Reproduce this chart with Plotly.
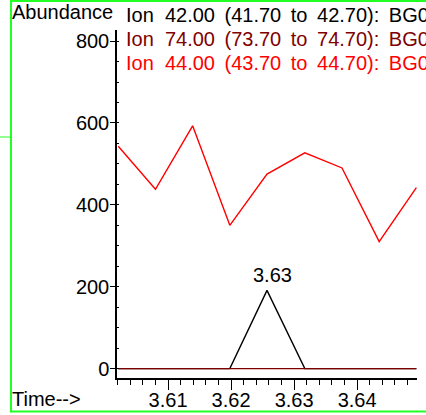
import plotly.graph_objects as go

# ---- data ----
times = [3.6021, 3.6080, 3.6139, 3.6198, 3.6257, 3.6317, 3.6376, 3.6435, 3.6494]
ion42 = [0, 0, 0, 0, 191, 0, 0, 0, 0]
ion74 = [0, 0, 0, 0, 0, 0, 0, 0, 0]
ion44 = [543, 438, 593, 350, 475, 527, 490, 310, 442]
SP = "\u00a0\u00a0"
S2 = "\u00a0\u2009"
legend_labels = [
    f"Ion{SP}42.00{S2}(41.70{S2}to{S2}42.70):{S2}BG0",
    f"Ion{SP}74.00{S2}(73.70{S2}to{S2}74.70):{S2}BG0",
    f"Ion{SP}44.00{S2}(43.70{S2}to{S2}44.70):{S2}BG0",
]
peak_label = "3.63"
x_ticks = [3.61, 3.62, 3.63, 3.64]
y_ticks = [0, 200, 400, 600, 800]

W, H = 426, 415
L, R, T, B = 117, 9, 30, 37
FONT = "Liberation Sans, Arial, sans-serif"
colors = ["#000000", "#800000", "#ff0000"]

fig = go.Figure()
for vals, c in zip([ion42, ion74, ion44], colors):
    fig.add_trace(go.Scatter(x=times, y=vals, mode="lines",
                             line=dict(color=c, width=1.4), showlegend=False,
                             hoverinfo="skip"))

pw = W - L - R
ph = H - T - B
def px(x):
    return (x - L) / pw
def py(y):
    return 1 - (y - T) / ph

shapes = [
    # green frame
    dict(type="line", xref="paper", yref="paper", x0=px(11), x1=px(430), y0=py(1), y1=py(1),
         line=dict(color="#22ff22", width=2)),
    dict(type="line", xref="paper", yref="paper", x0=px(11), x1=px(430), y0=py(411.5), y1=py(411.5),
         line=dict(color="#22ff22", width=2)),
    dict(type="line", xref="paper", yref="paper", x0=px(11), x1=px(11), y0=py(0), y1=py(412.5),
         line=dict(color="#22ff22", width=2)),
    dict(type="line", xref="paper", yref="paper", x0=px(0), x1=px(10), y0=py(137), y1=py(137),
         line=dict(color="#22ff22", width=1)),
]

annotations = [
    dict(text="Abundance", xref="paper", yref="paper", x=px(10), y=py(25),
         xanchor="left", yanchor="bottom", showarrow=False,
         font=dict(family=FONT, size=20, color="black")),
    dict(text="Time-->", xref="paper", yref="paper", x=px(10), y=py(412),
         xanchor="left", yanchor="bottom", showarrow=False,
         font=dict(family=FONT, size=20, color="black")),
    dict(text=peak_label, x=times[4], y=ion42[4], xanchor="center", yanchor="bottom",
         xshift=5, yshift=2, showarrow=False,
         font=dict(family=FONT, size=20, color="black")),
]
for i, (lab, c) in enumerate(zip(legend_labels, colors)):
    annotations.append(dict(text=lab, xref="paper", yref="paper", x=px(124), y=py(28 + 24 * i),
                            xanchor="left", yanchor="bottom", showarrow=False,
                            font=dict(family=FONT, size=20, color=c)))

fig.update_layout(
    width=W, height=H,
    margin=dict(l=L, r=R, t=T, b=B, pad=0, autoexpand=False),
    paper_bgcolor="white", plot_bgcolor="white",
    font=dict(family=FONT, size=20, color="black"),
    shapes=shapes, annotations=annotations,
    xaxis=dict(range=[3.6019, 3.6495], tickvals=x_ticks, ticktext=[f"{v:.2f}" for v in x_ticks],
               automargin=False, ticklabelstandoff=-7,
               showgrid=False, zeroline=False, showline=True, linecolor="black", linewidth=1.5,
               ticks="outside", ticklen=10, tickwidth=1.3, tickcolor="black",
               minor=dict(dtick=0.002, tick0=3.6, ticks="outside", ticklen=5, tickwidth=1.3,
                          tickcolor="black", showgrid=False),
               tickfont=dict(family=FONT, size=20)),
    yaxis=dict(range=[-23, 827], tickvals=y_ticks, showgrid=False, zeroline=False,
               automargin=False, ticklabelstandoff=-3,
               showline=True, linecolor="black", linewidth=1.5,
               ticks="outside", ticklen=5, tickwidth=1.3, tickcolor="black",
               minor=dict(dtick=50, tick0=0, ticks="inside", ticklen=2, tickwidth=1.3,
                          tickcolor="black", showgrid=False),
               tickfont=dict(family=FONT, size=20)),
)

fig.write_html("out.html", config={"displayModeBar": False},
               post_script="document.body.style.margin='0';document.body.style.overflow='hidden';")
